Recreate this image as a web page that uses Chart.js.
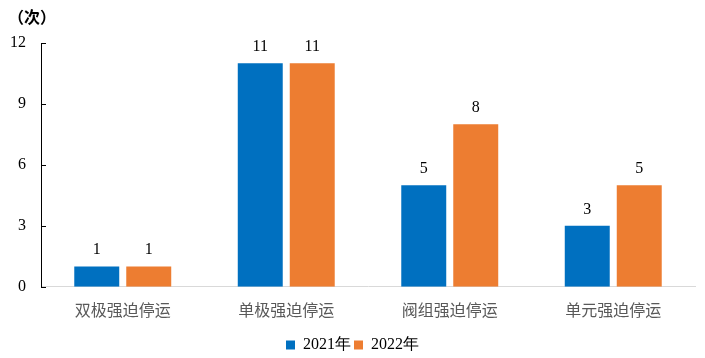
<!DOCTYPE html>
<html>
<head>
<meta charset="utf-8">
<script src="https://cdn.jsdelivr.net/npm/chart.js@4"></script>
<style>
  html, body { margin: 0; padding: 0; background: #fff; }
  #wrap { width: 705px; height: 358px; }
</style>
</head>
<body>
<div id="wrap"><canvas id="chart"></canvas></div>
<script>
const categories = ["双极强迫停运", "单极强迫停运", "阀组强迫停运", "单元强迫停运"];
const values2021 = [1, 11, 5, 3];
const values2022 = [1, 11, 8, 5];
const seriesNames = ["2021年", "2022年"];
const yTicks = [0, 3, 6, 9, 12];
const unitLabel = "（次）";

const serif = "'Liberation Serif', 'Times New Roman', serif";
const cjk = "'Noto Sans CJK SC', sans-serif";

// value labels above each bar
const barLabels = {
  id: "barLabels",
  afterDatasetsDraw(chart) {
    const ctx = chart.ctx;
    ctx.save();
    ctx.font = "16px " + serif;
    ctx.fillStyle = "#000";
    ctx.textAlign = "center";
    ctx.textBaseline = "alphabetic";
    chart.data.datasets.forEach((ds, i) => {
      chart.getDatasetMeta(i).data.forEach((bar, j) => {
        ctx.fillText(ds.data[j], bar.x, bar.y - 12);
      });
    });
    ctx.restore();
  }
};

// short tick marks pointing into the plot, plus the unit text
const axisExtras = {
  id: "axisExtras",
  afterDraw(chart) {
    const ctx = chart.ctx;
    const y = chart.scales.y;
    ctx.save();
    ctx.strokeStyle = "#000";
    ctx.lineWidth = 1;
    y.ticks.forEach((t) => {
      const py = Math.round(y.getPixelForValue(t.value)) + 0.5;
      ctx.beginPath();
      ctx.moveTo(y.right, py);
      ctx.lineTo(y.right + 5, py);
      ctx.stroke();
    });
    ctx.font = "bold 16px " + cjk;
    ctx.fillStyle = "#000";
    ctx.textBaseline = "middle";
    ctx.fillText(unitLabel, 8, 17);
    ctx.restore();
  }
};

new Chart(document.getElementById("chart"), {
  type: "bar",
  data: {
    labels: categories,
    datasets: [
      { label: seriesNames[0], data: values2021, backgroundColor: "#0070C0" },
      { label: seriesNames[1], data: values2022, backgroundColor: "#ED7D31" }
    ]
  },
  options: {
    responsive: true,
    maintainAspectRatio: false,
    animation: false,
    layout: { autoPadding: false, padding: { top: 43, right: 10, left: 10, bottom: -5 } },
    categoryPercentage: 0.636,
    barPercentage: 0.865,
    plugins: {
      legend: {
        position: "bottom",
        labels: {
          boxWidth: 9,
          boxHeight: 9,
          padding: 3,
          color: "#000",
          font: { family: serif, size: 16 }
        }
      },
      tooltip: { enabled: false }
    },
    scales: {
      x: {
        grid: { display: false, drawTicks: false },
        border: { color: "#d9d9d9", width: 1 },
        ticks: { color: "#595959", padding: 14, font: { family: cjk, size: 16 } }
      },
      y: {
        min: 0,
        max: 12,
        afterBuildTicks: (axis) => { axis.ticks = yTicks.map((v) => ({ value: v })); },
        afterFit: (s) => { s.width = 31; },
        grid: { display: false, drawTicks: false },
        border: { color: "#000", width: 1 },
        ticks: { color: "#000", padding: 15, font: { family: serif, size: 16 } }
      }
    }
  },
  plugins: [barLabels, axisExtras]
});
</script>
</body>
</html>
